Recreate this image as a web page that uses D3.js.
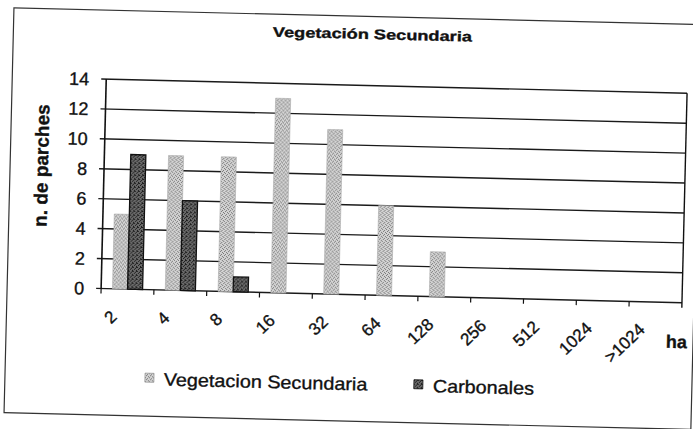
<!DOCTYPE html>
<html lang="es">
<head>
    <meta charset="UTF-8">
    <title>Vegetación Secundaria</title>
    <script src="https://d3js.org/d3.v7.min.js"></script>
    <style>
        body {
            margin: 0;
            background: #fff;
            font-family: Arial, "Liberation Sans", sans-serif;
        }
        .grid line {
            stroke: #1a1a1a;
            stroke-width: 1.4px;
        }
        text {
            fill: #111;
            stroke: #111;
            stroke-width: 0.35px;
        }
        .tick-label {
            font-size: 18px;
        }
    </style>
</head>
<body>
    <svg id="chart" width="693" height="429"></svg>

    <script>
        // datos
        const categories = ['2', '4', '8', '16', '32', '64', '128', '256', '512', '1024', '>1024'];
        const vegSecundaria = [5, 9, 9, 13, 11, 6, 3, 0, 0, 0, 0];
        const carbonales = [9, 6, 1, 0, 0, 0, 0, 0, 0, 0, 0];
        const seriesNames = ['Vegetacion Secundaria', 'Carbonales'];
        const yTicks = [0, 2, 4, 6, 8, 10, 12, 14];

        const W = 693, H = 429;
        const plot = { left: 103, right: 684, top: 85, bottom: 294.5 };

        const svg = d3.select('#chart');

        // tramas punteadas de las barras
        const defs = svg.append('defs');
        function stipple(id, bg, dot, pts) {
            const p = defs.append('pattern')
                .attr('id', id)
                .attr('patternUnits', 'userSpaceOnUse')
                .attr('width', 4).attr('height', 4);
            p.append('rect').attr('width', 4).attr('height', 4).attr('fill', bg);
            pts.forEach(d => p.append('rect')
                .attr('x', d[0]).attr('y', d[1])
                .attr('width', 1).attr('height', 1)
                .attr('fill', dot));
        }
        stipple('pat-veg', '#d4d4d4', '#777', [[0, 0], [2, 1], [1, 2], [3, 3]]);
        stipple('pat-carb', '#6a6a6a', '#1c1c1c', [[0, 0], [2, 1], [1, 2], [3, 3], [3, 0]]);

        // todo el escaneo está ligeramente girado
        const g = svg.append('g')
            .attr('transform', `rotate(1.4, ${W / 2}, ${H / 2})`);

        // marco exterior
        g.append('rect')
            .attr('x', 9).attr('y', 16)
            .attr('width', 687).attr('height', 405)
            .attr('fill', 'none')
            .attr('stroke', '#333')
            .attr('stroke-width', 1.2);

        // escalas (ancho de intervalo 150%)
        const x0 = d3.scaleBand()
            .domain(categories)
            .range([plot.left, plot.right])
            .paddingInner(0.43)
            .paddingOuter(0.215);
        const step = x0.step();
        const x1 = d3.scaleBand()
            .domain(seriesNames)
            .range([0, x0.bandwidth()]);
        const y = d3.scaleLinear()
            .domain([0, 14])
            .range([plot.bottom, plot.top]);

        // líneas de división
        g.append('g')
            .attr('class', 'grid')
            .selectAll('line')
            .data(yTicks)
            .enter().append('line')
            .attr('x1', plot.left - 5)
            .attr('x2', plot.right)
            .attr('y1', d => y(d))
            .attr('y2', d => y(d));

        // eje vertical y borde derecho
        g.append('line')
            .attr('x1', plot.left).attr('x2', plot.left)
            .attr('y1', plot.top).attr('y2', plot.bottom)
            .attr('stroke', '#111').attr('stroke-width', 1.6);
        g.append('line')
            .attr('x1', plot.right).attr('x2', plot.right)
            .attr('y1', plot.top).attr('y2', plot.bottom + 5)
            .attr('stroke', '#111').attr('stroke-width', 1.4);

        // marcas del eje x en los límites de las categorías
        g.append('g')
            .selectAll('line')
            .data(categories)
            .enter().append('line')
            .attr('x1', d => x0(d) - x0.paddingOuter() * step)
            .attr('x2', d => x0(d) - x0.paddingOuter() * step)
            .attr('y1', plot.bottom)
            .attr('y2', plot.bottom + 5)
            .attr('stroke', '#111').attr('stroke-width', 1.2);

        // barras
        const rows = categories.map((c, i) => ({
            cat: c,
            values: [
                { name: seriesNames[0], v: vegSecundaria[i] },
                { name: seriesNames[1], v: carbonales[i] }
            ]
        }));

        const groups = g.append('g')
            .selectAll('g')
            .data(rows)
            .enter().append('g')
            .attr('transform', d => `translate(${x0(d.cat)},0)`);

        groups.selectAll('rect')
            .data(d => d.values.filter(v => v.v > 0))
            .enter().append('rect')
            .attr('x', d => x1(d.name))
            .attr('y', d => y(d.v))
            .attr('width', x1.bandwidth())
            .attr('height', d => y(0) - y(d.v))
            .attr('fill', d => d.name === seriesNames[0] ? 'url(#pat-veg)' : 'url(#pat-carb)')
            .attr('stroke', d => d.name === seriesNames[0] ? '#aaa' : '#111')
            .attr('stroke-width', d => d.name === seriesNames[0] ? 0.6 : 1.3);

        // etiquetas del eje y
        g.append('g')
            .selectAll('text')
            .data(yTicks)
            .enter().append('text')
            .attr('class', 'tick-label')
            .attr('x', plot.left - 17)
            .attr('y', d => y(d))
            .attr('dy', '0.36em')
            .attr('text-anchor', 'end')
            .text(d => d);

        // etiquetas del eje x, giradas
        g.append('g')
            .selectAll('text')
            .data(categories)
            .enter().append('text')
            .attr('transform', d => `translate(${x0(d) + x0.bandwidth() / 2 - 9},${plot.bottom + 29}) rotate(-45)`)
            .attr('text-anchor', 'end')
            .attr('font-size', 17)
            .text(d => d);

        // título
        g.append('g')
            .attr('transform', 'translate(368,38.5) scale(1.3,1)')
            .append('text')
            .attr('text-anchor', 'middle')
            .attr('font-size', 14)
            .attr('font-weight', 'bold')
            .text('Vegetación Secundaria');

        // título del eje y
        g.append('text')
            .attr('transform', 'translate(47,173) rotate(-90)')
            .attr('text-anchor', 'middle')
            .attr('font-size', 19)
            .attr('font-weight', 'bold')
            .text('n. de parches');

        // unidad del eje x
        g.append('text')
            .attr('x', 669)
            .attr('y', 340)
            .attr('font-size', 18)
            .attr('font-weight', 'bold')
            .text('ha');

        // leyenda
        const legendItems = [
            { name: seriesNames[0], fill: 'url(#pat-veg)', stroke: '#999', x: 149 },
            { name: seriesNames[1], fill: 'url(#pat-carb)', stroke: '#111', x: 418 }
        ];
        const legend = g.append('g')
            .selectAll('g')
            .data(legendItems)
            .enter().append('g')
            .attr('transform', d => `translate(${d.x},378)`);
        legend.append('rect')
            .attr('width', 9).attr('height', 9)
            .attr('fill', d => d.fill)
            .attr('stroke', d => d.stroke)
            .attr('stroke-width', 0.8);
        legend.append('g')
            .attr('transform', 'translate(19,12) scale(1.1,1)')
            .append('text')
            .attr('font-size', 18)
            .text(d => d.name);
    </script>
</body>
</html>
